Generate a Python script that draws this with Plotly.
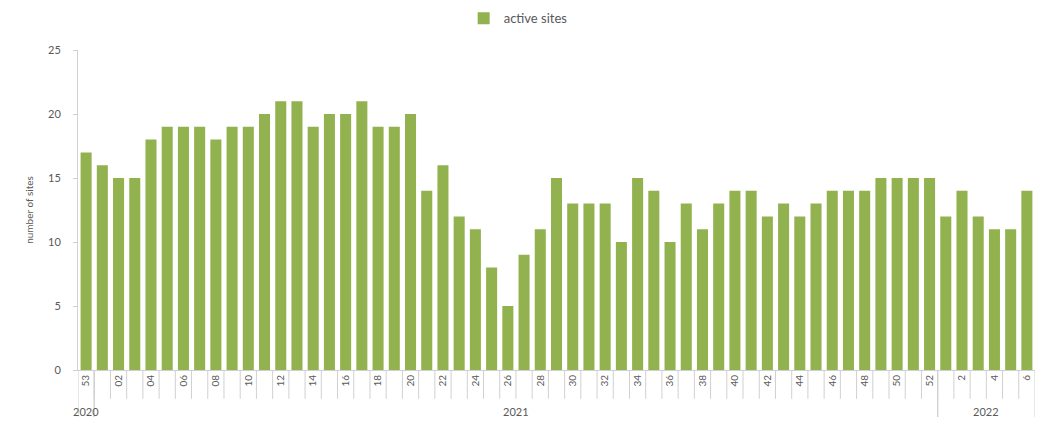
""" Weekly active sites bar chart """

import plotly.graph_objects as go

years = ['2020'] + ['2021'] * 52 + ['2022'] * 6
weeks = ['53'] + ['%02d' % w for w in range(1, 53)] + [str(w) for w in range(1, 7)]
active_sites = [
    17, 16, 15, 15, 18, 19, 19, 19, 18, 19, 19, 20, 21, 21, 19, 20, 20, 21, 19, 19,
    20, 14, 16, 12, 11, 8, 5, 9, 11, 15, 13, 13, 13, 10, 15, 14, 10, 13, 11, 13,
    14, 14, 12, 13, 12, 13, 14, 14, 14, 15, 15, 15, 15, 12, 14, 12, 11, 11, 14,
]

GREEN = '#91b24f'
GREY = '#595959'
LINE = '#d0d0d0'

fig = go.Figure()
fig.add_trace(go.Bar(
    x=list(range(len(weeks))),
    y=active_sites,
    name='active sites',
    marker=dict(color=GREEN, line=dict(width=0)),
    showlegend=True,
))

# every other week label, like the source
tick_text = [w if i % 2 == 0 else '' for i, w in enumerate(weeks)]

shapes = []
n = len(weeks)
# small separators between every week
for i in range(n - 1):
    shapes.append(dict(type='line', xref='x', yref='paper',
                       x0=i + 0.5, x1=i + 0.5, y0=0, y1=-0.09,
                       line=dict(color=LINE, width=1)))

# year groups: long dividers and centred labels
annotations = []
start = 0
for i in range(1, n + 1):
    if i == n or years[i] != years[start]:
        for edge in (start - 0.5, i - 0.5):
            shapes.append(dict(type='line', xref='x', yref='paper',
                               x0=edge, x1=edge, y0=0, y1=-0.165,
                               line=dict(color=LINE, width=1)))
        annotations.append(dict(x=(start + i - 1) / 2, y=-0.13, xref='x', yref='paper',
                                yanchor='middle', text=years[start], showarrow=False,
                                font=dict(size=11, color=GREY)))
        start = i

# page body has an 8px margin, so the figure is 16px smaller than the window
fig.update_layout(
    width=1030,
    height=409,
    autosize=False,
    margin=dict(l=70, r=3, t=42, b=47, autoexpand=False),
    paper_bgcolor='white',
    plot_bgcolor='white',
    font=dict(family='Lato, Open Sans, sans-serif', size=11, color=GREY),
    bargap=0.32,
    legend=dict(orientation='h', x=0.403, xanchor='left',
                y=0.975, yref='container', yanchor='middle',
                font=dict(size=13, color=GREY), itemwidth=30),
    shapes=shapes,
    annotations=annotations,
    xaxis=dict(
        tickmode='array',
        tickvals=list(range(n)),
        ticktext=tick_text,
        tickangle=-90,
        ticks='',
        showgrid=False,
        zeroline=False,
        showline=True,
        linecolor=LINE,
        automargin=False,
        range=[-0.5, n - 0.5],
        tickfont=dict(size=10, color=GREY),
    ),
    yaxis=dict(
        range=[0, 25],
        dtick=5,
        showgrid=False,
        zeroline=False,
        showline=True,
        linecolor=LINE,
        ticks='outside',
        ticklen=4,
        tickcolor=LINE,
        ticklabelstandoff=10,
        automargin=False,
        title=dict(text='number of sites', font=dict(size=10, color=GREY), standoff=12),
        tickfont=dict(size=11, color=GREY),
    ),
)

fig.write_html("out.html")
